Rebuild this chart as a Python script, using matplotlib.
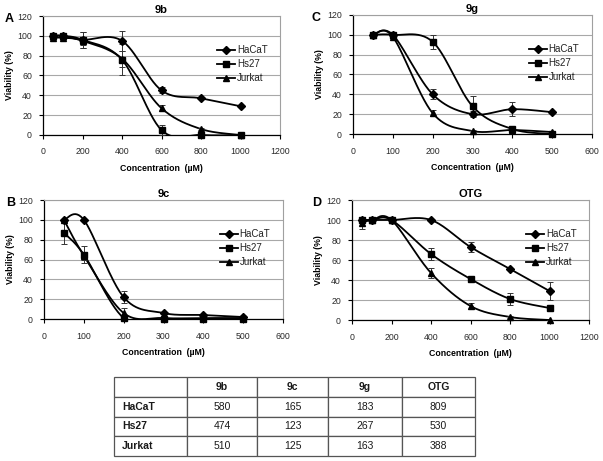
import numpy as np
import matplotlib
matplotlib.use("Agg")
import matplotlib.pyplot as plt
from matplotlib.lines import Line2D

plt.rcParams['font.family'] = ['Liberation Sans', 'DejaVu Sans']

series_names = ["HaCaT", "Hs27", "Jurkat"]
markers = ["D", "s", "^"]

# Panel A: 9b
x_9b = [50, 100, 200, 400, 600, 800, 1000]
hacat_9b = [100, 100, 96, 95, 45, 37, 29]
hs27_9b = [100, 100, 96, 76, 5, 0, 0]
jurkat_9b = [98, 98, 95, 77, 27, 6, 0]
hacat_9b_err = [1, 2, 8, 10, 3, 1, 1]
hs27_9b_err = [1, 1, 8, 16, 5, 0, 0]
jurkat_9b_err = [1, 1, 4, 8, 3, 1, 0]

# Panel B: 9c
x_9c = [50, 100, 200, 300, 400, 500]
hacat_9c = [100, 100, 22, 6, 4, 2]
hs27_9c = [87, 65, 1, 0, 0, 0]
jurkat_9c = [100, 64, 6, 1, 1, 1]
hacat_9c_err = [1, 1, 6, 1, 1, 0]
hs27_9c_err = [11, 9, 1, 0, 0, 0]
jurkat_9c_err = [1, 4, 5, 1, 0, 0]

# Panel C: 9g
x_9g = [50, 100, 200, 300, 400, 500]
hacat_9g = [100, 100, 40, 20, 25, 22]
hs27_9g = [100, 100, 93, 28, 5, 0]
jurkat_9g = [100, 98, 21, 3, 4, 2]
hacat_9g_err = [1, 1, 5, 3, 7, 1]
hs27_9g_err = [1, 1, 7, 10, 2, 0]
jurkat_9g_err = [1, 1, 3, 1, 1, 0]

# Panel D: OTG
x_otg = [50, 100, 200, 400, 600, 800, 1000]
hacat_otg = [100, 100, 100, 100, 73, 51, 29]
hs27_otg = [100, 100, 100, 66, 41, 21, 12]
jurkat_otg = [97, 100, 100, 47, 14, 3, 0]
hacat_otg_err = [1, 1, 1, 1, 5, 1, 9]
hs27_otg_err = [1, 1, 1, 6, 1, 6, 1]
jurkat_otg_err = [6, 1, 1, 5, 3, 1, 0]

# IC50 table
table_cols = ["9b", "9c", "9g", "OTG"]
table_rows = ["HaCaT", "Hs27", "Jurkat"]
ic50_hacat = [580, 165, 183, 809]
ic50_hs27 = [474, 123, 267, 530]
ic50_jurkat = [510, 125, 163, 388]

W, H = 603, 461
fig = plt.figure(figsize=(W / 100, H / 100), dpi=100)


def px_axes(l, t, r, b):
    return fig.add_axes([l / W, 1 - b / H, (r - l) / W, (b - t) / H])


def smooth(x, y, xmax, wpx, hpx, n=30):
    # Excel-like smoothing: Catmull-Rom in display-scaled coordinates
    px = np.asarray(x, float) / xmax * wpx
    py = np.asarray(y, float) / 120 * hpx
    P = np.column_stack([px, py])
    P = np.vstack([P[0], P, P[-1]])
    out = []
    for i in range(1, len(P) - 2):
        p0, p1, p2, p3 = P[i - 1], P[i], P[i + 1], P[i + 2]
        c1 = p1 + (p2 - p0) / 6
        c2 = p2 - (p3 - p1) / 6
        t = np.linspace(0, 1, n)[:, None]
        seg = ((1 - t) ** 3) * p1 + 3 * ((1 - t) ** 2) * t * c1 + 3 * (1 - t) * t ** 2 * c2 + t ** 3 * p2
        out.append(seg if i == 1 else seg[1:])
    out = np.vstack(out)
    return out[:, 0] / wpx * xmax, out[:, 1] / hpx * 120


def panel(box, letter, letter_dx, title, x, ys, errs, xmax):
    l, t, r, b = box
    ax = px_axes(l, t, r, b)
    wpx, hpx = r - l, b - t
    for y, e, m in zip(ys, errs, markers):
        sx, sy = smooth(x, y, xmax, wpx, hpx)
        ax.plot(sx, sy, color='black', lw=1.3, zorder=3, clip_on=True)
        ax.errorbar(x, y, yerr=e, fmt='none', ecolor='#333333', elinewidth=0.7,
                    capsize=2, capthick=0.7, zorder=3, clip_on=False)
        ax.plot(x, y, linestyle='none', marker=m, color='black',
                markersize=4.2 if m != 'D' else 3.8, zorder=4, clip_on=False)
    ax.set_xlim(0, xmax)
    ax.set_ylim(0, 120)
    ax.set_xticks(np.arange(0, xmax + 1, xmax // 6))
    ax.set_yticks(np.arange(0, 121, 20))
    ax.yaxis.grid(True, color='#a8a8a8', lw=0.8)
    ax.set_axisbelow(True)
    for s in ['top', 'right']:
        ax.spines[s].set_color('#a0a0a0')
        ax.spines[s].set_linewidth(0.8)
    for s in ['left', 'bottom']:
        ax.spines[s].set_color('black')
        ax.spines[s].set_linewidth(0.9)
    ax.tick_params(labelsize=6.3, length=3, width=0.8, color='black',
                   labelcolor='#2a2a2a')
    ax.tick_params(axis='x', pad=6)
    ax.tick_params(axis='y', pad=5)
    ax.set_xlabel("Concentration  (\u00b5M)", fontsize=6.3, fontweight='bold', labelpad=5.5)
    ax.set_ylabel("Viability (%)", fontsize=6.3, fontweight='bold', labelpad=2.5)
    ax.set_title(title, fontsize=8, fontweight='bold', pad=2)
    fig.text((l - letter_dx) / W, 1 - (t + 3) / H, letter, fontsize=9, fontweight='bold',
             ha='center', va='center')
    handles = [Line2D([0], [0], color='black', lw=1.3, marker=m,
                      markersize=4.0 if m != 'D' else 3.6) for m in markers]
    leg = ax.legend(handles, series_names, loc='upper left', bbox_to_anchor=(0.735, 0.755),
                    frameon=False, fontsize=7, handlelength=1.85, handletextpad=0.2,
                    labelspacing=0.4, borderaxespad=0, borderpad=0)
    for txt in leg.get_texts():
        txt.set_color('#222222')
    return ax


panel((43, 16, 280, 135), "A", 33.5, "9b", x_9b,
      [hacat_9b, hs27_9b, jurkat_9b], [hacat_9b_err, hs27_9b_err, jurkat_9b_err], 1200)
panel((353, 15, 592, 134), "C", 37, "9g", x_9g,
      [hacat_9g, hs27_9g, jurkat_9g], [hacat_9g_err, hs27_9g_err, jurkat_9g_err], 600)
panel((44, 200, 283, 319), "B", 33, "9c", x_9c,
      [hacat_9c, hs27_9c, jurkat_9c], [hacat_9c_err, hs27_9c_err, jurkat_9c_err], 600)
panel((352, 200, 589, 320), "D", 35, "OTG", x_otg,
      [hacat_otg, hs27_otg, jurkat_otg], [hacat_otg_err, hs27_otg_err, jurkat_otg_err], 1200)

# Table
tax = px_axes(114, 377, 475, 456)
tax.axis('off')
cell_text = [[""] + table_cols]
for name, vals in zip(table_rows, [ic50_hacat, ic50_hs27, ic50_jurkat]):
    cell_text.append([name] + [str(v) for v in vals])
col_widths = np.array([73, 70, 71, 74, 73], float)
col_widths = col_widths / col_widths.sum()
tbl = tax.table(cellText=cell_text, colWidths=list(col_widths), bbox=[0, 0, 1, 1],
                cellLoc='center')
tbl.auto_set_font_size(False)
for (r, c), cell in tbl.get_celld().items():
    cell.set_edgecolor('#555555')
    cell.set_linewidth(0.9)
    cell.get_text().set_fontsize(7.5)
    cell.get_text().set_color('#1a1a1a')
    if r == 0 or c == 0:
        cell.get_text().set_fontweight('bold')
    if c == 0:
        cell.get_text().set_ha('left')
        cell.PAD = 0.11

fig.savefig("out.png", dpi=100)
